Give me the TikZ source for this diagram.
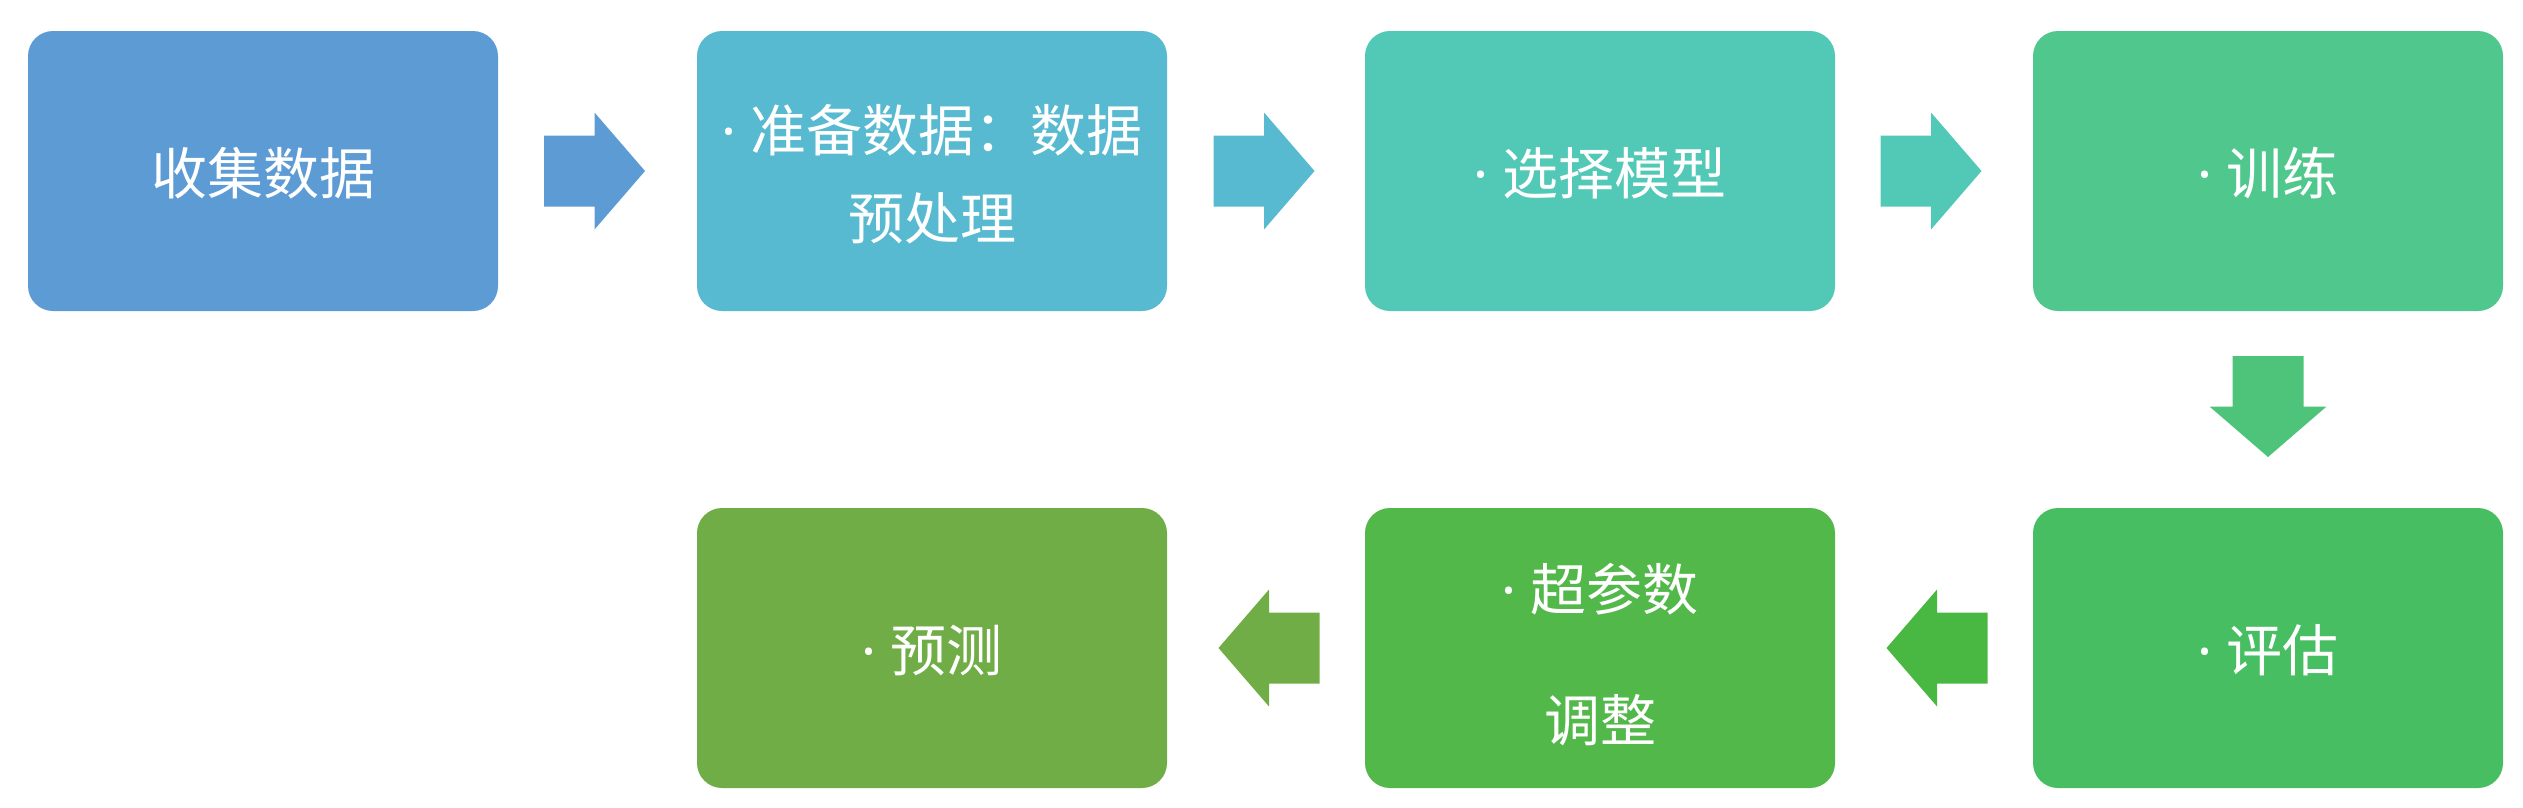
\documentclass[tikz,border=0pt]{standalone}
\usepackage{fontspec}
\setmainfont{Noto Sans CJK SC}
\newfontfamily\latinfont{Noto Sans}
\newcommand\mydot{{\latinfont ·\ }}
\newcommand\lowtext[2]{\raisebox{-#1}[\height][\depth]{\begin{tabular}{@{}c@{}}#2\end{tabular}}}
\usetikzlibrary{calc}
\definecolor{cA}{HTML}{5D9BD5}
\definecolor{cB}{HTML}{57BAD0}
\definecolor{cC}{HTML}{52C8B6}
\definecolor{cD}{HTML}{50C78D}
\definecolor{cE}{HTML}{48BE62}
\definecolor{cF}{HTML}{52B849}
\definecolor{cG}{HTML}{70AD47}
\definecolor{cH}{HTML}{49B842}
\definecolor{cI}{HTML}{4DC47A}
\tikzset{
  stagebox/.style={rounded corners=25pt, minimum width=470pt, minimum height=280pt,
    inner sep=0pt, text=white,
    font=\fontsize{56pt}{88pt}\selectfont},
  pics/barrow/.style={code={
    \fill[pic actions] (-50.5,-35.5) -- (0,-35.5) -- (0,-58.5) -- (50.5,0)
      -- (0,58.5) -- (0,35.5) -- (-50.5,35.5) -- cycle;}}
}
\begin{document}
\begin{tikzpicture}[x=1pt,y=-1pt]
\useasboundingbox (0,0) rectangle (2523,807);
\node[stagebox, fill=cA] (b1) at (263,171) {\lowtext{5.5pt}{收集数据}};
\node[stagebox, fill=cB] (b2) at (932,171) {\lowtext{6.5pt}{\mydot 准备数据：数据\\预处理}};
\node[stagebox, fill=cC] (b3) at (1600,171) {\lowtext{5.5pt}{\mydot 选择模型}};
\node[stagebox, fill=cD] (b4) at (2268,171) {\lowtext{5.5pt}{\mydot 训练}};
\node[stagebox, fill=cE] (b5) at (2268,648) {\lowtext{5.5pt}{\mydot 评估}};
\node[stagebox, fill=cF] (b6) at (1600,648) {\lowtext{10.5pt}{\mydot 超参数\\[43pt]调整}};
\node[stagebox, fill=cG] (b7) at (932,648) {\lowtext{5.5pt}{\mydot 预测}};
\pic[fill=cA] at ($(b1.east)!0.5!(b2.west)+(-3,0)$) {barrow};
\pic[fill=cB] at ($(b2.east)!0.5!(b3.west)+(-2,0)$) {barrow};
\pic[fill=cC] at ($(b3.east)!0.5!(b4.west)+(-3,0)$) {barrow};
\pic[fill=cI, rotate=-90] at ($(b4.south)!0.5!(b5.north)+(0,-3)$) {barrow};
\pic[fill=cH, rotate=180] at ($(b5.west)!0.5!(b6.east)+(3,0)$) {barrow};
\pic[fill=cG, rotate=180] at ($(b6.west)!0.5!(b7.east)+(3,0)$) {barrow};
\end{tikzpicture}
\end{document}
